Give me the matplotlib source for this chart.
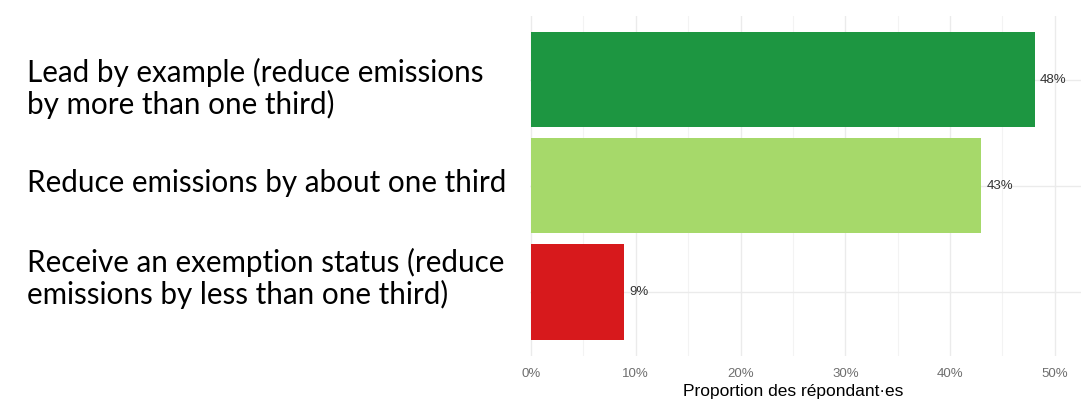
import matplotlib
matplotlib.use("Agg")
import matplotlib.pyplot as plt
from matplotlib.ticker import MultipleLocator, FuncFormatter

# Data
categories = [
    ["Lead by example (reduce emissions", "by more than one third)"],
    ["Reduce emissions by about one third"],
    ["Receive an exemption status (reduce", "emissions by less than one third)"],
]
values = [48.1, 43.0, 8.9]
value_labels = ["48%", "43%", "9%"]
bar_colors = ["#1d9641", "#a6d96a", "#d7191c"]

W, H = 1092, 401
fig = plt.figure(figsize=(W / 100, H / 100), dpi=100)
fig.patch.set_facecolor("white")

# panel placed in pixel coordinates
left, right, top, bottom = 529.5, 1081, 16, 355.5
ax = fig.add_axes([left / W, 1 - bottom / H, (right - left) / W, (bottom - top) / H])

ypos = list(range(len(values)))
ax.barh(ypos, values, height=0.9, color=bar_colors, zorder=2)
for y, v, lab in zip(ypos, values, value_labels):
    ax.text(v + 0.5, y, lab, ha="left", va="center", fontsize=9.5,
            family="Liberation Sans", color="#333333", zorder=3)

ax.set_xlim(-0.15, 52.5)
ax.set_ylim(2.6, -0.6)
ax.xaxis.set_major_locator(MultipleLocator(10))
ax.xaxis.set_minor_locator(MultipleLocator(5))
ax.xaxis.set_major_formatter(FuncFormatter(lambda x, p: f"{x:.0f}%"))
ax.set_yticks(ypos)
ax.set_yticklabels([])
ax.grid(which="major", axis="both", color="#ebebeb", linewidth=1.0, zorder=0)
ax.grid(which="minor", axis="x", color="#f3f3f3", linewidth=0.8, zorder=0)
ax.tick_params(which="both", length=0)
ax.tick_params(axis="x", labelsize=9.5, labelcolor="#6e6e6e", pad=9)
for lab in ax.get_xticklabels():
    lab.set_family("Liberation Sans")
for s in ax.spines.values():
    s.set_visible(False)
ax.set_axisbelow(True)
ax.set_xlabel("Proportion des répondant·es", fontsize=12.5, family="Liberation Sans",
              color="black")
# centred on the original (wider) ggplot panel, not on the visible part
ax.xaxis.set_label_coords((793.5 - left) / (right - left), -(399 - bottom) / (bottom - top),
                          transform=ax.transAxes)
ax.xaxis.label.set_va("bottom")

# left-hand category text (one line at a time, baselines in pixels)
first_baselines = [82, 192, 272]
line_step = 31.7
for lines, b in zip(categories, first_baselines):
    for i, line in enumerate(lines):
        fig.text(27 / W, 1 - (b + i * line_step) / H, line, ha="left", va="baseline",
                 fontsize=21.3, family="Lato", color="black")

fig.savefig("out.png", dpi=100)
